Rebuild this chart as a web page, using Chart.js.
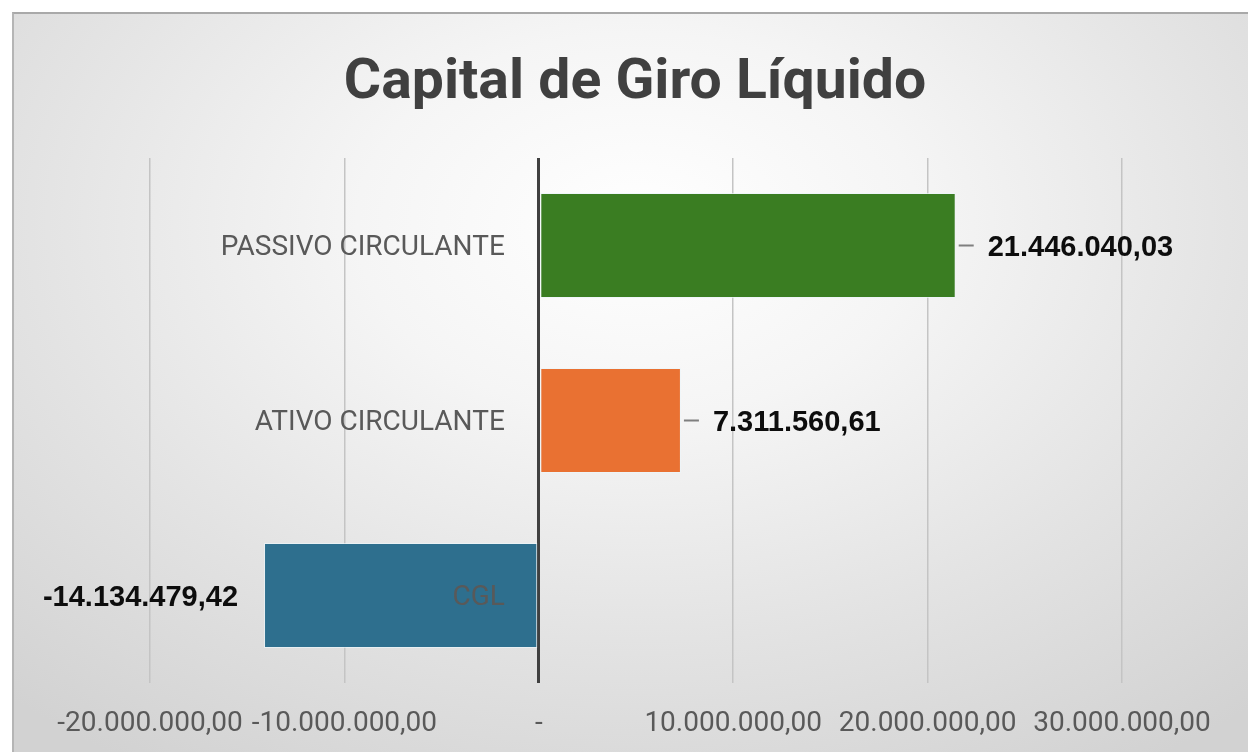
<!DOCTYPE html>
<html>
<head>
<meta charset="utf-8">
<script src="https://cdn.jsdelivr.net/npm/chart.js@4.4.1/dist/chart.umd.min.js"></script>
<style>
  html, body { margin: 0; padding: 0; background: #fff; }
  #frame {
    position: absolute; left: 12px; top: 12px; width: 1248px; height: 752px;
    border-top: 2px solid #a9a9a9; border-left: 2px solid #b5b5b5;
    background: radial-gradient(ellipse 75% 85% at 50% 28%, #ffffff 0%, #f5f5f5 30%, #e3e3e3 65%, #d2d2d2 100%);
  }
  #wrap { position: absolute; left: 0; top: 0; width: 1248px; height: 752px; }
</style>
</head>
<body>
<div id="frame"></div>
<div id="wrap"><canvas id="cgl"></canvas></div>
<script>
/* Capital de Giro Líquido — barras horizontais */

const titulo     = 'Capital de Giro Líquido';
const categorias = ['PASSIVO CIRCULANTE', 'ATIVO CIRCULANTE', 'CGL'];
const valores    = [21446040.03, 7311560.61, -14134479.42];
const cores      = ['#3a7d22', '#e97132', '#2e6f8e'];
const eixoX      = { min: -20000000, max: 30000000, passo: 10000000 };

// formato pt-BR: 21.446.040,03
function fmt(v) {
  const neg = v < 0;
  const [int, dec] = Math.abs(v).toFixed(2).split('.');
  const milhar = int.replace(/\B(?=(\d{3})+(?!\d))/g, '.');
  return (neg ? '-' : '') + milhar + ',' + dec;
}

// ── título ─────────────────────────────────────────────
const tituloGrafico = {
  id: 'tituloGrafico',
  afterDraw(chart) {
    const { ctx } = chart;
    ctx.save();
    ctx.font = "bold 56px Roboto, 'Liberation Sans', sans-serif";
    ctx.fillStyle = '#404040';
    ctx.textAlign = 'center';
    ctx.textBaseline = 'alphabetic';
    ctx.translate(635, 98);
    ctx.scale(1.02, 1);
    ctx.fillText(titulo, 0, 0);
    ctx.restore();
  },
};

// ── rótulos das categorias junto ao eixo zero ──────────
const rotulosCategoria = {
  id: 'rotulosCategoria',
  afterDatasetsDraw(chart) {
    const { ctx, scales: { x, y } } = chart;
    const x0 = x.getPixelForValue(0);
    ctx.save();
    ctx.font = "28px Roboto, 'Liberation Sans', sans-serif";
    ctx.fillStyle = '#595959';
    ctx.textAlign = 'right';
    ctx.textBaseline = 'middle';
    categorias.forEach((c, i) => {
      ctx.fillText(c, x0 - 34, y.getPixelForValue(i) + 2);
    });
    ctx.restore();
  },
};

// ── valores com linha guia ─────────────────────────────
const rotulosValor = {
  id: 'rotulosValor',
  afterDatasetsDraw(chart) {
    const { ctx } = chart;
    const meta = chart.getDatasetMeta(0);
    ctx.save();
    ctx.font = "bold 29px 'Liberation Sans', Arial, sans-serif";
    ctx.fillStyle = '#0d0d0d';
    ctx.textBaseline = 'middle';
    meta.data.forEach((bar, i) => {
      const v = valores[i];
      const yy = bar.y;
      if (v >= 0) {
        ctx.strokeStyle = '#7f7f7f';
        ctx.lineWidth = 2;
        ctx.beginPath();
        ctx.moveTo(bar.x + 3, yy);
        ctx.lineTo(bar.x + 18, yy);
        ctx.stroke();
        ctx.textAlign = 'left';
        ctx.fillText(fmt(v), bar.x + 32, yy + 2);
      } else {
        ctx.textAlign = 'right';
        ctx.fillText(fmt(v), bar.x - 26, yy + 2);
      }
    });
    ctx.restore();
  },
};

const ctx = document.getElementById('cgl').getContext('2d');
new Chart(ctx, {
  type: 'bar',
  data: {
    labels: categorias,
    datasets: [{
      data: valores,
      backgroundColor: cores,
      borderColor: 'rgba(235,245,250,0.7)',
      borderWidth: 1,
      borderSkipped: false,
      categoryPercentage: 1,
      barPercentage: 0.6,
    }],
  },
  options: {
    indexAxis: 'y',
    responsive: true,
    maintainAspectRatio: false,
    animation: false,
    layout: { padding: { left: 150, right: 126, top: 158, bottom: 0 } },
    plugins: {
      legend: { display: false },
      tooltip: { enabled: false },
      title: { display: false },
    },
    scales: {
      x: {
        min: eixoX.min,
        max: eixoX.max,
        afterFit: s => { s.height = 69; s.paddingLeft = 0; s.paddingRight = 0; },
        border: { display: false },
        grid: {
          drawTicks: false,
          color: c => c.tick && c.tick.value === 0 ? '#404040' : '#c4c4c4',
          lineWidth: c => c.tick && c.tick.value === 0 ? 3 : 1.5,
        },
        ticks: {
          stepSize: eixoX.passo,
          autoSkip: false,
          maxRotation: 0,
          minRotation: 0,
          padding: 24,
          color: '#595959',
          font: { family: "Roboto, 'Liberation Sans', sans-serif", size: 28 },
          callback: v => v === 0 ? '-' : fmt(v),
        },
      },
      y: {
        display: false,
      },
    },
  },
  plugins: [rotulosCategoria, rotulosValor, tituloGrafico],
});
</script>
</body>
</html>
